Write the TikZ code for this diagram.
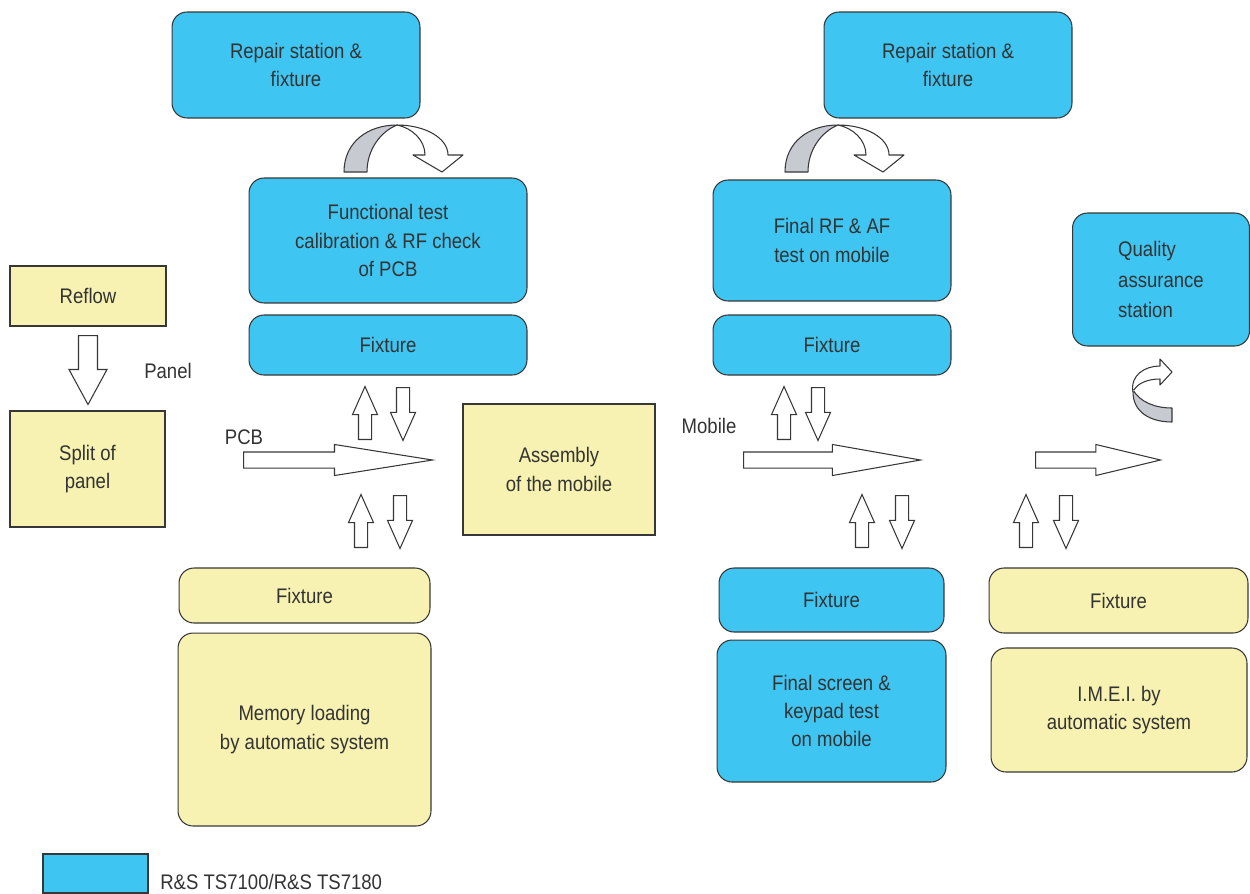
\documentclass[tikz,border=0pt]{standalone}
\usepackage{fontspec}
\setmainfont[FakeStretch=0.88]{Liberation Sans}
\usepackage{tikz}
\usetikzlibrary{shapes,arrows}
\definecolor{tsblue}{RGB}{62,197,241}
\definecolor{tsyellow}{RGB}{247,242,178}
\definecolor{ribbon}{RGB}{200,202,210}
\definecolor{edge}{RGB}{55,55,55}
\tikzstyle{base} = [rectangle, draw=edge, line width=0.6pt, text=black!80,
    font=\fontsize{12}{16}\selectfont, align=center, inner sep=0pt]
\tikzstyle{station} = [base, fill=tsblue, rounded corners=0.3cm]
\tikzstyle{manual} = [base, fill=tsyellow]
\tikzstyle{robot} = [base, fill=tsyellow, rounded corners=0.3cm]
\tikzstyle{tag} = [text=black!80, font=\fontsize{12}{16}\selectfont, inner sep=0pt]
\tikzstyle{flow} = [single arrow, draw=edge, fill=white, line width=0.6pt,
    inner xsep=0pt, inner ysep=0.15cm, single arrow head extend=0.15cm, anchor=tail]
\tikzstyle{lift} = [single arrow, draw=edge, fill=white, line width=0.6pt,
    inner xsep=0pt, inner ysep=0.12cm, single arrow head extend=0.12cm,
    single arrow tip angle=48, minimum height=1.06cm, anchor=tail]
\tikzstyle{liftup} = [lift, rotate=90]
\tikzstyle{liftdown} = [lift, rotate=-90]
\tikzstyle{twist} = [draw=edge, line width=0.6pt, line join=round]

\begin{document}
\begin{tikzpicture}[x=0.02cm, y=-0.02cm]
  \useasboundingbox (0,0) rectangle (1250,893);
  % Test stations
  \node [station, minimum width=4.96cm, minimum height=2.12cm] (rep1) at (296,65) {Repair station \&\\fixture};
  \node [station, minimum width=5.56cm, minimum height=2.5cm] (func) at (388,240.5) {Functional test\\calibration \& RF check\\of PCB};
  \node [station, minimum width=5.56cm, minimum height=1.2cm] (fixa) at (388,345) {Fixture};
  \node [station, minimum width=4.96cm, minimum height=2.12cm] (rep2) at (948,65) {Repair station \&\\fixture};
  \node [station, minimum width=4.76cm, minimum height=2.42cm] (finrf) at (832,240.5) {Final RF \& AF\\test on mobile};
  \node [station, minimum width=4.76cm, minimum height=1.2cm] (fixb) at (832,345) {Fixture};
  \node [station, minimum width=3.54cm, minimum height=2.66cm, align=left, font=\fontsize{12}{17.6}\selectfont] (qa) at (1161,279.5) {Quality\\assurance\\station};
  \node [station, minimum width=4.5cm, minimum height=1.28cm] (fixc) at (831.5,600) {Fixture};
  \node [station, minimum width=4.58cm, minimum height=2.84cm] (screen) at (831.5,711) {Final screen \&\\keypad test\\on mobile};
  % Other steps
  \node [manual, minimum width=3.12cm, minimum height=1.2cm] (reflow) at (88,296) {Reflow};
  \node [manual, minimum width=3.1cm, minimum height=2.32cm] (split) at (87.5,469) {Split of\\panel};
  \node [manual, minimum width=3.84cm, minimum height=2.62cm] (assy) at (559,469.5) {Assembly\\of the mobile};
  \node [robot, minimum width=5.02cm, minimum height=1.1cm] (fixy) at (304.5,595.5) {Fixture};
  \node [robot, minimum width=5.06cm, minimum height=3.86cm] (mem) at (304.5,729.5) {Memory loading\\by automatic system};
  \node [robot, minimum width=5.18cm, minimum height=1.3cm] (fixd) at (1118.5,600.5) {Fixture};
  \node [robot, minimum width=5.12cm, minimum height=2.48cm] (imei) at (1119,710) {I.M.E.I. by\\automatic system};
  % Labels
  \node [tag] (panel) at (168,371) {Panel};
  \node [tag] (pcb) at (244,437) {PCB};
  \node [tag] (mobile) at (709,426) {Mobile};
  % Flow arrows
  \node [flow, rotate=-90, inner ysep=0.18cm, single arrow head extend=0.19cm,
    single arrow tip angle=57, minimum height=1.38cm] (cut) at (88,335) {};
  \node [flow, single arrow tip angle=18, minimum height=3.78cm] (pcbflow) at (243,460) {};
  \node [flow, single arrow tip angle=20, minimum height=3.54cm] (mobflow) at (743,460) {};
  \node [flow, single arrow tip angle=27, minimum height=2.5cm] (qaflow) at (1035,460) {};
  % Load and unload arrows
  \node [liftup] (a1u) at (365,440) {};
  \node [liftdown] (a1d) at (403,387) {};
  \node [liftup] (a2u) at (361,548) {};
  \node [liftdown] (a2d) at (400,495) {};
  \node [liftup] (b1u) at (784,440) {};
  \node [liftdown] (b1d) at (818,387) {};
  \node [liftup] (b2u) at (862,548) {};
  \node [liftdown] (b2d) at (902,495) {};
  \node [liftup] (c2u) at (1026,548) {};
  \node [liftdown] (c2d) at (1066,495) {};
  % Repair loops
  \foreach \dx in {0,441} {
    \begin{scope}[xshift=\dx*0.02cm]
      \draw [twist, fill=ribbon] (344,172) .. controls (344,142) and (368,125) .. (397,125)
        .. controls (380,132) and (367,150) .. (367,172) -- cycle;
      \draw [twist, fill=white] (397,125) .. controls (425,125) and (448,138) .. (448,155)
        -- (463,155) -- (442,172) -- (413,155) -- (425,155)
        .. controls (425,140) and (412,128) .. (397,125);
    \end{scope}
  }
  \draw [twist, fill=ribbon] (1133,390) .. controls (1140,402) and (1155,408) .. (1172,408)
    -- (1172,422) .. controls (1150,422) and (1133,412) .. (1133,392) -- cycle;
  \draw [twist, fill=white] (1133,392) .. controls (1130,375) and (1145,366) .. (1160,366)
    -- (1160,359) -- (1172,372) -- (1160,385) -- (1160,379)
    .. controls (1148,379) and (1138,383) .. (1134,390);
  % Legend
  \node [base, fill=tsblue, minimum width=2.1cm, minimum height=0.78cm] (key) at (95.5,873.5) {};
  \node [tag, anchor=west] (keytext) at (160,882) {R\&S TS7100/R\&S TS7180};
\end{tikzpicture}
\end{document}
